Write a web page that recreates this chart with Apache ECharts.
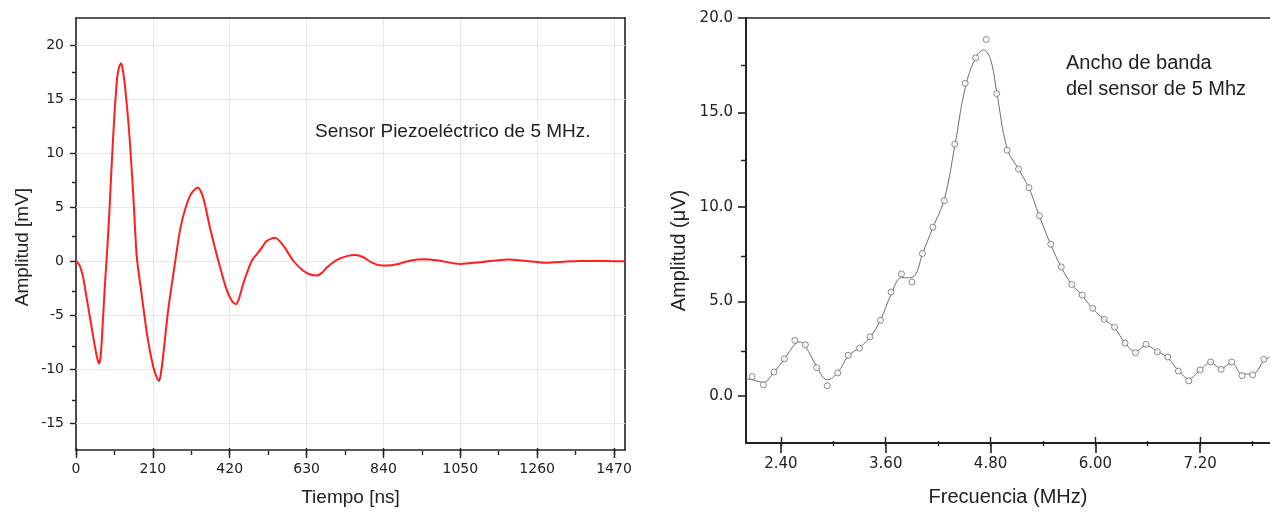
<!DOCTYPE html>
<html>
<head>
<meta charset="utf-8">
<script src="https://cdn.jsdelivr.net/npm/echarts@6/dist/echarts.min.js"></script>
<style>
html,body{margin:0;padding:0;background:#fff;}
#c{width:1270px;height:512px;}
</style>
</head>
<body>
<div id="c"></div>
<script>
// ---- Left chart: time signal ----
const leftTime = [0,10,20,30,40,50,58,63,68,73,79,85,91,97,104,112,118,123,128,135,146,157,166,179,195,211,222,227,232,239,252,266,272,285,300,316,333,348,366,389,412,426,437,446,457,480,503,521,544,567,594,621,640,658,672,685,713,740,763,785,806,830,851,877,915,950,990,1050,1110,1180,1230,1287,1340,1378,1440,1500];
const leftAmp  = [0,-0.4,-1.6,-3.6,-5.6,-7.6,-9.0,-9.5,-8.6,-5.8,-2.2,0.9,4.4,8.6,13.0,16.8,18.0,18.3,17.7,15.8,11.6,5.8,0.4,-3.0,-7.0,-9.8,-10.9,-11.1,-10.4,-8.5,-4.5,-1.2,0.2,3.0,5.0,6.3,6.8,5.8,3.1,0.0,-2.7,-3.7,-4.0,-3.4,-2.1,0.0,1.0,1.85,2.15,1.4,0.0,-0.9,-1.25,-1.35,-1.1,-0.6,0.1,0.45,0.55,0.35,-0.1,-0.4,-0.42,-0.3,0.05,0.17,0.05,-0.28,-0.1,0.15,0.0,-0.17,-0.05,0.0,0.0,-0.03];
const leftXTicks = [0,210,420,630,840,1050,1260,1470];
const leftXMinor = [105,315,525,735,945,1155,1365];
const leftYTicks = [-15,-10,-5,0,5,10,15,20];
const leftYMinor = [-12.5,-7.5,-2.5,2.5,7.5,12.5,17.5];
const leftGridY  = [-15,-10,-5,0,5,10,15,20];

// ---- Right chart: frequency response ----
const freqPts = [2.07,2.20,2.32,2.44,2.56,2.68,2.81,2.93,3.05,3.17,3.30,3.42,3.54,3.66,3.78,3.90,4.02,4.14,4.27,4.39,4.51,4.63,4.75,4.87,4.99,5.12,5.24,5.36,5.49,5.61,5.73,5.85,5.97,6.10,6.22,6.34,6.46,6.58,6.71,6.83,6.95,7.07,7.20,7.32,7.44,7.56,7.68,7.80,7.93];
const ampPts  = [1.02,0.58,1.26,1.96,2.93,2.70,1.49,0.53,1.21,2.14,2.52,3.12,4.00,5.49,6.45,6.02,7.53,8.93,10.33,13.32,16.54,17.89,18.86,16.00,13.00,12.00,11.02,9.53,8.02,6.82,5.89,5.33,4.63,4.05,3.63,2.79,2.28,2.72,2.33,2.05,1.31,0.79,1.37,1.79,1.40,1.79,1.07,1.11,1.93];
const fitFreq = [2.00,2.07,2.20,2.32,2.44,2.56,2.62,2.68,2.81,2.93,3.05,3.17,3.30,3.42,3.54,3.66,3.78,3.86,3.94,4.02,4.14,4.27,4.39,4.51,4.63,4.72,4.80,4.87,4.99,5.12,5.24,5.36,5.49,5.61,5.73,5.85,5.97,6.10,6.22,6.34,6.46,6.58,6.71,6.83,6.95,7.07,7.20,7.32,7.44,7.56,7.68,7.80,7.93,8.00];
const fitAmp  = [0.90,0.85,0.72,1.25,1.95,2.72,2.85,2.62,1.55,0.85,1.22,2.10,2.55,3.10,4.00,5.35,6.25,6.25,6.40,7.50,8.90,10.40,13.20,16.30,17.90,18.30,17.80,16.10,13.10,12.00,11.00,9.50,8.00,6.80,5.90,5.30,4.60,4.05,3.60,2.80,2.35,2.65,2.35,2.00,1.35,0.90,1.35,1.75,1.45,1.75,1.15,1.15,1.85,2.05];
const rightXTicks = [2.4,3.6,4.8,6.0,7.2];
const rightXMinor = [3.0,4.2,5.4,6.6,7.8];
const rightYTicks = [0,5,10,15,20];
const rightYMinor = [2.5,7.5,12.5,17.5];

const INK = '#222';
const TICKFONT = '"DejaVu Sans", sans-serif';
const TEXTFONT = '"Liberation Sans", Arial, sans-serif';

const LR = {min:0, max:1500}, LY = {min:-17.5, max:22.5};
const RR = {min:2.0, max:8.0}, RY = {min:-2.5, max:20};

function tickOnly(gridIndex, rng, values, len, inside) {
  return {
    type:'value', gridIndex, min:rng.min, max:rng.max,
    axisLine:{show:false, onZero:false},
    axisLabel:{show:false},
    splitLine:{show:false},
    axisTick:{show:values.length>0, customValues:values, length:len, inside:inside, lineStyle:{color:INK, width:1.4}}
  };
}
function lineOnly(gridIndex, rng, position, width) {
  return {
    type:'value', gridIndex, min:rng.min, max:rng.max, position,
    axisLine:{show:true, onZero:false, lineStyle:{color:INK, width}},
    axisLabel:{show:false}, axisTick:{show:false}, splitLine:{show:false}
  };
}

const gL = {left:76, top:18, width:549, height:437};
const gR = {left:746, top:18, width:527, height:428};

const option = {
  animation:false,
  backgroundColor:'#fff',
  grid:[
    Object.assign({}, gL), Object.assign({}, gL), Object.assign({}, gL),
    Object.assign({}, gR), Object.assign({}, gR), Object.assign({}, gR)
  ],
  xAxis:[
    { // 0 left main
      type:'value', gridIndex:0, min:LR.min, max:LR.max, interval:210, position:'bottom',
      name:'Tiempo [ns]', nameLocation:'middle', nameGap:38,
      nameTextStyle:{fontFamily:TEXTFONT, fontSize:19, color:INK},
      axisLine:{show:true, onZero:false, lineStyle:{color:INK, width:1.6}},
      axisTick:{show:true, customValues:leftXTicks, length:8, lineStyle:{color:INK, width:1.4}},
      axisLabel:{customValues:leftXTicks, margin:12, fontFamily:TICKFONT, fontSize:14, color:INK,
                 formatter:v=>String(v)},
      splitLine:{show:true, lineStyle:{color:'#e8e8e8', width:1}}
    },
    lineOnly(0, LR, 'top', 1.6),                 // 1 left top border
    tickOnly(1, LR, leftXTicks, 7, true),         // 2
    tickOnly(2, LR, leftXMinor, 4, true),         // 3
    { // 4 right main
      type:'value', gridIndex:3, min:RR.min, max:RR.max, position:'bottom',
      name:'Frecuencia (MHz)', nameLocation:'middle', nameGap:44,
      nameTextStyle:{fontFamily:TEXTFONT, fontSize:20, color:INK},
      axisLine:{show:true, onZero:false, lineStyle:{color:INK, width:2}},
      axisTick:{show:true, customValues:rightXTicks, length:10, lineStyle:{color:INK, width:1.6}},
      axisLabel:{customValues:rightXTicks, margin:14, fontFamily:TICKFONT, fontSize:15, color:INK,
                 formatter:v=>v.toFixed(2)},
      splitLine:{show:false}
    },
    lineOnly(3, RR, 'top', 1.6),                 // 5 right top border
    tickOnly(4, RR, rightXTicks, 9, true),        // 6
    tickOnly(5, RR, rightXMinor, 5, true)         // 7
  ],
  yAxis:[
    { // 0 left main
      type:'value', gridIndex:0, min:LY.min, max:LY.max, position:'left',
      name:'Amplitud [mV]', nameLocation:'middle', nameGap:44, nameRotate:90,
      nameTextStyle:{fontFamily:TEXTFONT, fontSize:19, color:INK, padding:[0,26,0,0]},
      axisLine:{show:true, onZero:false, lineStyle:{color:INK, width:1.6}},
      axisTick:{show:true, customValues:leftYTicks, length:6, lineStyle:{color:INK, width:1.4}},
      axisLabel:{customValues:leftYTicks, margin:12, fontFamily:TICKFONT, fontSize:14, color:INK},
      splitLine:{show:false}
    },
    lineOnly(0, LY, 'right', 1.6),               // 1 left right border
    tickOnly(1, LY, leftYMinor, 4, false),       // 2
    tickOnly(2, LY, [], 4, false),               // 3
    { // 4 right main
      type:'value', gridIndex:3, min:RY.min, max:RY.max, position:'left',
      name:'Amplitud (μV)', nameLocation:'middle', nameGap:57, nameRotate:90,
      nameTextStyle:{fontFamily:TEXTFONT, fontSize:20, color:INK, padding:[0,40,0,0]},
      axisLine:{show:true, onZero:false, lineStyle:{color:INK, width:2}},
      axisTick:{show:true, customValues:rightYTicks, length:8, lineStyle:{color:INK, width:1.6}},
      axisLabel:{customValues:rightYTicks, margin:13, fontFamily:TICKFONT, fontSize:15, color:INK,
                 formatter:v=>v.toFixed(1)},
      splitLine:{show:false}
    },
    tickOnly(4, RY, rightYMinor, 5, false),      // 5
    tickOnly(5, RY, [], 4, false)                // 6
  ],
  series:[
    {
      type:'line', xAxisIndex:0, yAxisIndex:0, z:3,
      data:leftTime.map((t,i)=>[t, leftAmp[i]]),
      smooth:0.25, showSymbol:false, silent:true,
      lineStyle:{color:'#ff1f1f', width:2},
      markLine:{
        silent:true, z:1, symbol:['none','none'], label:{show:false},
        lineStyle:{type:'solid', color:'#e8e8e8', width:1},
        emphasis:{disabled:true},
        data:leftGridY.map(v=>({yAxis:v}))
      }
    },
    {
      type:'line', xAxisIndex:4, yAxisIndex:4, z:2,
      data:fitFreq.map((f,i)=>[f, fitAmp[i]]),
      smooth:0.4, showSymbol:false, silent:true,
      lineStyle:{color:'#6e6e6e', width:1}
    },
    {
      type:'scatter', xAxisIndex:4, yAxisIndex:4, z:4,
      data:freqPts.map((f,i)=>[f, ampPts[i]]),
      symbol:'circle', symbolSize:6, silent:true,
      itemStyle:{color:'#ffffff', borderColor:'#6e6e6e', borderWidth:1}
    }
  ],
  graphic:[
    {type:'text', left:315, top:122, z:100, silent:true,
     style:{text:'Sensor Piezoeléctrico de 5 MHz.', font:'19px "Liberation Sans", Arial, sans-serif', fill:INK}},
    {type:'text', left:1066, top:50, z:100, silent:true,
     style:{text:'Ancho de banda\ndel sensor de 5 Mhz', font:'20px "Liberation Sans", Arial, sans-serif', lineHeight:26, fill:INK}}
  ]
};

const chart = echarts.init(document.getElementById('c'), null, {renderer:'canvas'});
chart.setOption(option);
</script>
</body>
</html>
